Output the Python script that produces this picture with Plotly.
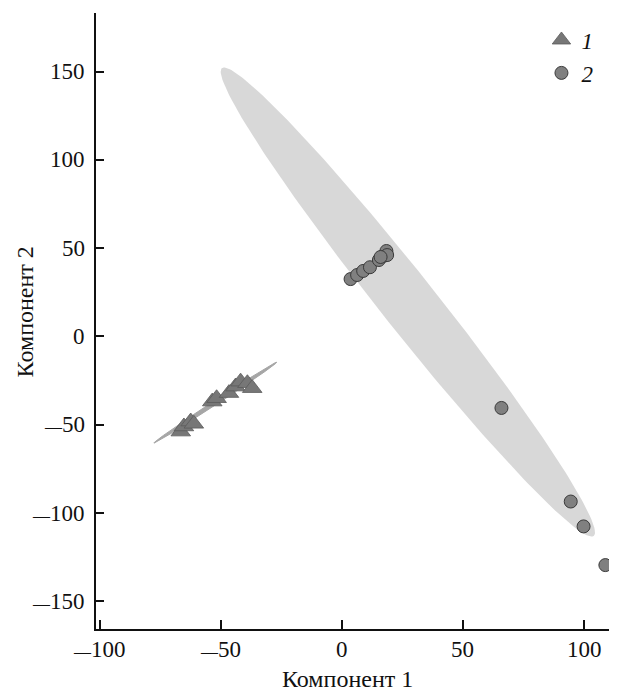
import numpy as np
import plotly.graph_objects as go

# Group 1 (triangles)
g1_x = [-66.5, -65.2, -62.4, -61.1, -53.5, -51.7, -46.6, -43.9, -41.8, -39.0, -37.0]
g1_y = [-53.9, -51.0, -48.2, -49.5, -36.9, -35.0, -32.1, -28.4, -25.6, -26.5, -29.3]

# Group 2 (circles)
g2_x = [3.6, 6.3, 8.8, 11.6, 15.3, 17.3, 18.4, 18.7, 16.0, 65.9, 94.5, 99.8, 108.8]
g2_y = [32.5, 34.8, 37.1, 39.2, 43.3, 45.7, 48.4, 46.1, 45.0, -40.5, -93.5, -107.6, -129.5]

# Confidence ellipses: major-axis endpoints and conjugate half-width vector (data units)
ell2_ends = [(-49.5, 152.0), (104.0, -113.0)]
ell2_half = (8.9, 9.7)
ell1_ends = [(-77.6, -60.4), (-26.9, -14.6)]
ell1_half = (0.7, -0.8)

x_ticks = [-100, -50, 0, 50, 100]
y_ticks = [-150, -100, -50, 0, 50, 100, 150]


def ellipse(ends, half, n=240):
    (x0, y0), (x1, y1) = ends
    cx, cy = (x0 + x1) / 2, (y0 + y1) / 2
    ux, uy = (x1 - x0) / 2, (y1 - y0) / 2
    vx, vy = half
    t = np.linspace(0, 2 * np.pi, n)
    return cx + np.cos(t) * ux + np.sin(t) * vx, cy + np.cos(t) * uy + np.sin(t) * vy


def fmt(v):
    if v < 0:
        return '<span style="font-size:17px">\u2014</span>' + str(-v)
    return str(v)


fig = go.Figure()
ex, ey = ellipse(ell2_ends, ell2_half)
fig.add_trace(go.Scatter(x=ex, y=ey, fill="toself", fillcolor="#d8d8d8",
                         line=dict(width=0, color="#d8d8d8"), mode="lines",
                         showlegend=False, hoverinfo="skip"))
ex, ey = ellipse(ell1_ends, ell1_half)
fig.add_trace(go.Scatter(x=ex, y=ey, fill="toself", fillcolor="#a6a6a6",
                         line=dict(width=1, color="#a6a6a6"), mode="lines",
                         showlegend=False, hoverinfo="skip"))

fig.add_trace(go.Scatter(x=g1_x, y=g1_y, mode="markers", name="1", cliponaxis=False,
                         marker=dict(symbol="triangle-up", size=17, color="#777777",
                                     line=dict(width=0.8, color="#5a5a5a"))))
fig.add_trace(go.Scatter(x=g2_x, y=g2_y, mode="markers", name="2", cliponaxis=False,
                         marker=dict(symbol="circle", size=13, color="#808080",
                                     line=dict(width=1, color="#3a3a3a"))))

serif = "Liberation Serif"
font = dict(family=serif, size=23, color="#111111")
title_font = dict(family=serif, size=24, color="#111111")

annotations = []
for v in x_ticks:
    annotations.append(dict(text=fmt(v), x=v, xref="x", y=-0.034, yref="paper",
                            xanchor="center", yanchor="middle", showarrow=False, font=font))
for v in y_ticks:
    annotations.append(dict(text=fmt(v), x=0, xref="paper", y=v, yref="y", xshift=-9,
                            xanchor="right", yanchor="middle", showarrow=False, font=font))
annotations += [
    dict(text="Компонент 1", xref="paper", yref="paper", x=0.483, y=-0.0807,
         xanchor="center", yanchor="middle", showarrow=False, font=title_font),
    dict(text="Компонент 2", xref="paper", yref="paper", x=-0.137, y=0.515,
         xanchor="center", yanchor="middle", showarrow=False, textangle=-90, font=title_font),
]

fig.update_layout(
    width=609, height=686,
    margin=dict(l=88, r=0, t=5, b=65),
    paper_bgcolor="white", plot_bgcolor="white",
    font=font,
    showlegend=True,
    legend=dict(x=0.855, y=0.991, xanchor="left", yanchor="top",
                font=dict(family=serif, size=23, style="italic", color="#111111"),
                bgcolor="rgba(0,0,0,0)", itemwidth=30, tracegroupgap=0),
    xaxis=dict(range=[-101.5, 113.6], tickvals=x_ticks, showticklabels=False,
               showgrid=False, zeroline=False, showline=True, linecolor="#111111", linewidth=1.5,
               ticks="inside", ticklen=9, tickwidth=1.5, tickcolor="#111111", mirror=False),
    yaxis=dict(range=[-165.7, 183.2], tickvals=y_ticks, showticklabels=False,
               showgrid=False, zeroline=False, showline=True, linecolor="#111111", linewidth=1.5,
               ticks="inside", ticklen=8, tickwidth=1.5, tickcolor="#111111", mirror=False),
    annotations=annotations,
)

fig.write_html("out.html")
